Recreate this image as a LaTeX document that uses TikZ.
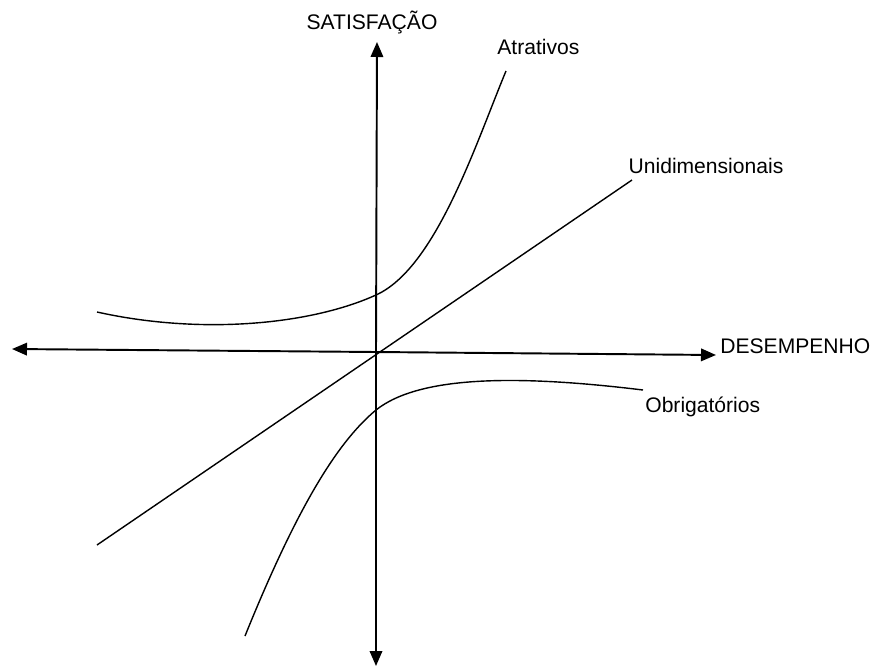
\documentclass[tikz,border=0pt]{standalone}
\usepackage{fontspec}
\setmainfont{Liberation Sans}
\usetikzlibrary{positioning,arrows.meta}

\begin{document}
\begin{tikzpicture}[
      x=0.02cm, y=-0.02cm,
      axis/.style={line width=1.1pt, -{Triangle[length=0.3cm,width=0.25cm]}},
      curve/.style={line width=0.8pt},
      label/.style={font=\fontsize{12}{14}\selectfont, inner sep=0pt}
      ]
      \useasboundingbox (0,0) rectangle (877,670);
      \coordinate (O) at (376,352);
      \coordinate (TOP) at (377,42);
      \coordinate (BOT) at (376,666);
      \coordinate (LEFT) at (12,349);
      \coordinate (RIGHT) at (716,355);
      % eixos
      \draw[axis] (O) -- (TOP);
      \draw[axis] (O) -- (BOT);
      \draw[axis] (O) -- (LEFT);
      \draw[axis] (O) -- (RIGHT);
      \node[label] (SAT) at (372,22) {SATISFAÇÃO};
      \node[label, anchor=west] (DES) at (720,346) {DESEMPENHO};
      % curvas
      \draw[curve] (97,312) .. controls (200,335) and (310,325) .. (376,295)
                   .. controls (436,268) and (476,143) .. (506,71);
      \draw[curve] (97,545) -- (632,180);
      \draw[curve] (245,636) .. controls (300,500) and (340,440) .. (376,410)
                   .. controls (420,375) and (520,375) .. (643,390);
      \node[label, anchor=west] (ATR) at (497,47) {Atrativos};
      \node[label] (UNI) at (706,166) {Unidimensionais};
      \node[label, anchor=west] (OBR) at (645,407) {Obrigatórios};
    \end{tikzpicture}
\end{document}
